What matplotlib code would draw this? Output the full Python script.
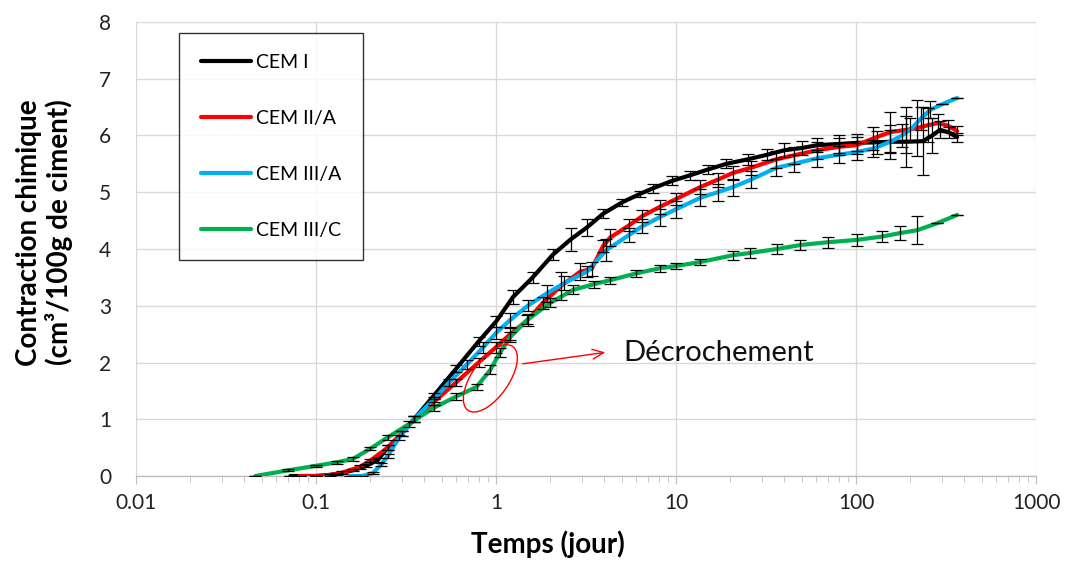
import matplotlib
matplotlib.use("Agg")
import matplotlib.pyplot as plt
import numpy as np
from matplotlib.patches import Ellipse
from matplotlib.transforms import ScaledTranslation
from matplotlib.ticker import FixedLocator, FixedFormatter, LogLocator, NullFormatter

plt.rcParams['font.family'] = ['Lato', 'DejaVu Sans']

# --- data (temps en jours, contraction en cm3/100g) ---
t_cem1 = [0.072, 0.10, 0.13, 0.16, 0.19, 0.22, 0.25, 0.30, 0.35, 0.45, 0.6, 0.8, 1.0,
          1.24, 1.6, 2.07, 2.6, 3.2, 3.93, 5.0, 6.3, 7.45, 9.5, 12, 15, 19, 25, 32,
          40, 50, 61, 80, 101, 130, 155, 190, 235, 265, 293, 330, 364]
v_cem1 = [0.0, 0.0, 0.03, 0.10, 0.18, 0.28, 0.50, 0.75, 1.0, 1.41, 1.89, 2.37, 2.72,
          3.15, 3.5, 3.9, 4.17, 4.38, 4.62, 4.82, 4.97, 5.07, 5.2, 5.3, 5.4, 5.5, 5.58, 5.66,
          5.74, 5.78, 5.83, 5.85, 5.87, 5.88, 5.89, 5.89, 5.9, 6.0, 6.1, 6.05, 5.97]
e_cem1 = [0.0, 0.0, 0.02, 0.02, 0.03, 0.03, 0.04, 0.05, 0.05, 0.05, 0.06, 0.08, 0.1,
          0.12, 0.1, 0.1, 0.2, 0.15, 0.08, 0.06, 0.06, 0.08, 0.08, 0.08, 0.08, 0.08, 0.1, 0.1,
          0.12, 0.12, 0.12, 0.15, 0.15, 0.2, 0.3, 0.45, 0.6, 0.3, 0.15, 0.1, 0.08]

t_cem2 = [0.081, 0.10, 0.12, 0.14, 0.175, 0.2, 0.25, 0.3, 0.35, 0.45, 0.6, 0.8, 1.0,
          1.2, 1.5, 1.82, 2.3, 2.93, 3.4, 3.93, 4.3, 5.5, 6.5, 8.1, 10, 13.6, 17, 20.7,
          26, 36, 45, 61, 80, 101, 125, 155, 190, 218, 250, 286, 325, 364]
v_cem2 = [0.0, 0.0, 0.02, 0.06, 0.16, 0.27, 0.5, 0.75, 1.0, 1.3, 1.65, 2.0, 2.27,
          2.5, 2.75, 3.05, 3.35, 3.6, 3.65, 4.05, 4.2, 4.42, 4.58, 4.74, 4.88, 5.09, 5.22, 5.34,
          5.43, 5.58, 5.65, 5.74, 5.8, 5.83, 5.95, 6.06, 6.1, 6.13, 6.18, 6.22, 6.17, 6.08]
e_cem2 = [0.0, 0.0, 0.02, 0.02, 0.03, 0.03, 0.04, 0.05, 0.05, 0.05, 0.06, 0.08, 0.1,
          0.1, 0.1, 0.1, 0.25, 0.15, 0.12, 0.1, 0.15, 0.1, 0.1, 0.12, 0.1, 0.12, 0.12, 0.12,
          0.12, 0.15, 0.15, 0.15, 0.15, 0.15, 0.2, 0.35, 0.4, 0.5, 0.3, 0.15, 0.1, 0.08]

t_cem3a = [0.155, 0.18, 0.207, 0.23, 0.25, 0.29, 0.35, 0.45, 0.55, 0.69, 0.85, 1.0,
           1.2, 1.5, 1.92, 2.4, 3.2, 4.1, 5.5, 6.5, 8.1, 10, 13.6, 17, 20.7, 26, 36,
           45, 61, 80, 101, 125, 155, 180, 200, 230, 258, 300, 364]
v_cem3a = [0.0, 0.0, 0.05, 0.2, 0.35, 0.68, 1.0, 1.35, 1.65, 1.97, 2.27, 2.52,
           2.75, 3.0, 3.22, 3.4, 3.6, 3.98, 4.25, 4.4, 4.56, 4.7, 4.9, 5.0, 5.09, 5.22, 5.43,
           5.5, 5.6, 5.66, 5.71, 5.77, 5.89, 6.0, 6.1, 6.3, 6.45, 6.55, 6.66]
e_cem3a = [0.0, 0.0, 0.02, 0.03, 0.03, 0.04, 0.05, 0.05, 0.06, 0.08, 0.1, 0.1,
           0.12, 0.1, 0.15, 0.12, 0.1, 0.2, 0.12, 0.12, 0.15, 0.15, 0.15, 0.15, 0.15, 0.15, 0.15,
           0.15, 0.15, 0.15, 0.15, 0.15, 0.2, 0.2, 0.2, 0.2, 0.15, 0.0, 0.0]

t_cem3c = [0.046, 0.07, 0.1, 0.13, 0.16, 0.2, 0.25, 0.33, 0.45, 0.6, 0.78, 0.93, 1.05,
           1.2, 1.49, 2.0, 2.68, 3.5, 4.3, 6, 8.1, 10, 13.6, 20.7, 25.8, 36.4, 49, 70,
           101, 140, 175, 218, 280, 364]
v_cem3c = [0.0, 0.1, 0.18, 0.24, 0.3, 0.48, 0.68, 0.92, 1.2, 1.4, 1.57, 1.87, 2.17,
           2.45, 2.75, 3.05, 3.28, 3.38, 3.45, 3.57, 3.66, 3.7, 3.77, 3.89, 3.93, 4.0, 4.07, 4.12,
           4.16, 4.22, 4.28, 4.33, 4.45, 4.6]
e_cem3c = [0.0, 0.02, 0.02, 0.02, 0.03, 0.03, 0.04, 0.05, 0.05, 0.06, 0.06, 0.08, 0.08,
           0.08, 0.08, 0.08, 0.08, 0.06, 0.06, 0.06, 0.06, 0.06, 0.06, 0.08, 0.08, 0.08, 0.08, 0.1,
           0.1, 0.1, 0.12, 0.25, 0.0, 0.0]

series = [
    ("CEM I", t_cem1, v_cem1, e_cem1, "#000000"),
    ("CEM II/A", t_cem2, v_cem2, e_cem2, "#ff0000"),
    ("CEM III/A", t_cem3a, v_cem3a, e_cem3a, "#00b0f0"),
    ("CEM III/C", t_cem3c, v_cem3c, e_cem3c, "#00b050"),
]

x_ticks = [0.01, 0.1, 1, 10, 100, 1000]
x_tick_labels = ["0.01", "0.1", "1", "10", "100", "1000"]
y_ticks = [0, 1, 2, 3, 4, 5, 6, 7, 8]

fig = plt.figure(figsize=(10.65, 5.61), dpi=100)
ax = fig.add_axes([0.1277, 0.1515, 0.8451, 0.8093])

for name, t, v, e, col in series:
    ax.plot(t, v, color=col, lw=3, label=name, zorder=3, solid_capstyle='round')
for name, t, v, e, col in series:
    ax.errorbar(t, v, yerr=e, fmt='none', ecolor='black', elinewidth=0.9,
                capsize=4, capthick=0.9, zorder=4)

ax.set_xscale('log')
ax.set_xlim(0.01, 1000)
ax.set_ylim(0, 8)
ax.xaxis.set_major_locator(FixedLocator(x_ticks))
ax.xaxis.set_major_formatter(FixedFormatter(x_tick_labels))
ax.xaxis.set_minor_locator(LogLocator(base=10, subs=np.arange(2, 10)))
ax.xaxis.set_minor_formatter(NullFormatter())
ax.set_yticks(y_ticks)

ax.grid(True, which='major', color='#d9d9d9', lw=1)
ax.set_axisbelow(True)
for s in ['top', 'right', 'left']:
    ax.spines[s].set_visible(False)
ax.spines['bottom'].set_color('#bfbfbf')
ax.spines['bottom'].set_linewidth(1)

ax.tick_params(axis='x', which='major', length=6, color='#bfbfbf', labelsize=15, pad=6)
ax.tick_params(axis='x', which='minor', length=4, color='#bfbfbf')
ax.tick_params(axis='y', length=0, labelsize=15, pad=18)
for lab in ax.get_xticklabels() + ax.get_yticklabels():
    lab.set_color('#222222')

ax.set_xlabel("Temps (jour)", fontsize=20, fontweight='bold')
ax.xaxis.set_label_coords(0.458, -0.12)
ax.set_ylabel("Contraction chimique\n(cm³/100g de ciment)", fontsize=20,
              fontweight='bold', linespacing=1.15)
ax.yaxis.set_label_coords(-0.07, 0.537)

leg = ax.legend(loc='upper left', bbox_to_anchor=(0.048, 0.976), borderaxespad=0,
                fontsize=14, frameon=True, fancybox=False, edgecolor='black',
                handlelength=2.6, handletextpad=0.25, labelspacing=2.0, borderpad=1.1)
leg.get_frame().set_linewidth(1)
for line in leg.get_lines():
    line.set_linewidth(3)

# annotation "Décrochement"
ell_center = (0.93, 1.72)
ell = Ellipse((0, 0), 0.78, 0.37, angle=55, fill=False, edgecolor='red', lw=1,
              transform=fig.dpi_scale_trans + ScaledTranslation(ell_center[0], ell_center[1], ax.transData),
              zorder=5)
ax.add_patch(ell)
ax.annotate('', xy=(4.19, 2.185), xytext=(1.36, 1.97),
            arrowprops=dict(arrowstyle='->,head_length=0.8,head_width=0.35', color='red', lw=1),
            zorder=5)
ax.text(5.08, 2.17, "Décrochement", fontsize=21, color='#111111', ha='left', va='center')

fig.savefig("out.png", dpi=100)
